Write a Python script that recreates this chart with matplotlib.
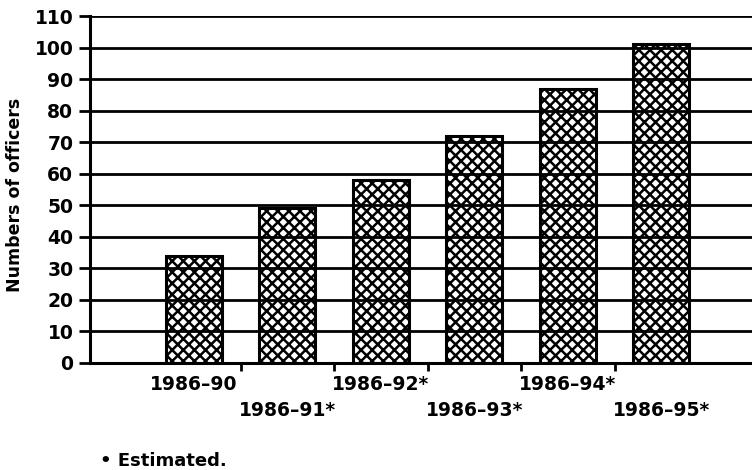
import matplotlib
matplotlib.use("Agg")
import matplotlib.pyplot as plt

categories = ["1986\u201390", "1986\u201391*", "1986\u201392*", "1986\u201393*", "1986\u201394*", "1986\u201395*"]
values = [34, 49, 58, 72, 87, 101]
yticks = list(range(0, 111, 10))

plt.rcParams['hatch.linewidth'] = 1.8
fig = plt.figure(figsize=(7.52, 4.70), dpi=100)
fig.patch.set_facecolor("white")
ax = fig.add_axes([90/752, 1-363/470, 1-90/752, (363-16)/470])
ax.set_facecolor("white")

x = list(range(len(categories)))
ax.bar(x, values, width=0.6, color="white", edgecolor="black", linewidth=2.2,
       hatch="xxx", zorder=2)
for t in yticks[1:]:
    ax.axhline(t, color="black", linewidth=2.0, zorder=3)

ax.set_xlim(-1.11, 5.97)
ax.set_ylim(0, 110)
ax.set_yticks(yticks)
ax.set_yticklabels([str(t) for t in yticks], fontsize=13.5, fontweight="bold")
ax.tick_params(axis="y", length=8, width=2, pad=4)

# x ticks at category boundaries
ax.set_xticks([i + 0.5 for i in range(len(categories) - 1)])
ax.set_xticklabels([])
ax.tick_params(axis="x", length=6, width=2, direction="out")
for i, lab in enumerate(categories):
    yoff = -0.062 if i % 2 == 0 else -0.136
    ax.text(i, yoff, lab, transform=ax.get_xaxis_transform(), ha="center", va="center",
            fontsize=13.5, fontweight="bold")

for s in ["top", "right"]:
    ax.spines[s].set_visible(False)
ax.spines["left"].set_linewidth(2.2)
ax.spines["bottom"].set_linewidth(2.2)

fig.text(15/752, 1-195/470, "Numbers of officers", rotation=90, ha="center", va="center",
         fontsize=12.5, fontweight="bold")
fig.text(100/752, 1-461/470, "\u2022 Estimated.", ha="left", va="center", fontsize=13,
         fontweight="bold")

fig.savefig("out.png", dpi=100)
